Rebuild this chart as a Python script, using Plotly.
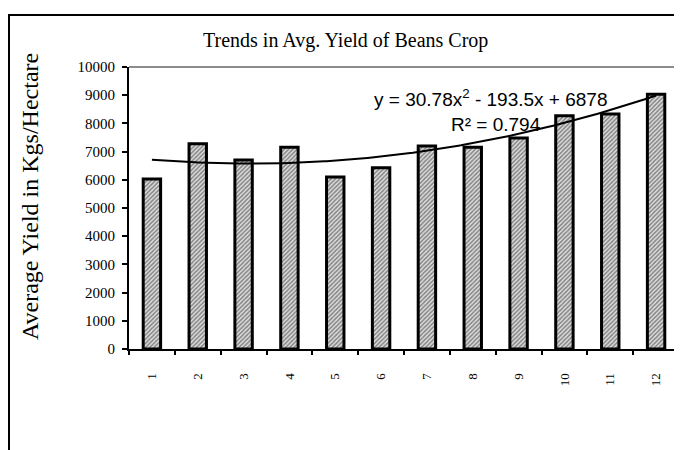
import numpy as np
import plotly.graph_objects as go

years = [1, 2, 3, 4, 5, 6, 7, 8, 9, 10, 11, 12]
tick_labels = ["1", "2", "3", "4", "5", "6", "7", "8", "9", "10", "11", "12"]
yield_vals = [6030, 7280, 6700, 7150, 6100, 6430, 7200, 7150, 7480, 8270, 8330, 9030]
trend_coef = [30.78, -193.5, 6878]  # quadratic trendline shown on chart
y_ticks = [0, 1000, 2000, 3000, 4000, 5000, 6000, 7000, 8000, 9000, 10000]

title = "Trends in Avg. Yield of Beans Crop"
y_title = "Average Yield in Kgs/Hectare"
eq_text = "y = 30.78x<sup>2</sup> - 193.5x + 6878"
r2_text = "R² = 0.794"

serif = "Liberation Serif, Times New Roman, serif"
sans = "Liberation Sans, Arial, sans-serif"

tx = np.linspace(years[0], years[-1], 200)
ty = np.polyval(trend_coef, tx)

fig = go.Figure()
fig.add_trace(go.Bar(
    x=years, y=yield_vals, width=0.38,
    marker=dict(color="#e4e4e4", line=dict(color="black", width=3),
                pattern=dict(shape="/", fgcolor="#2a2a2a", size=3, solidity=0.55)),
    showlegend=False, hoverinfo="skip"))
fig.add_trace(go.Scatter(x=tx, y=ty, mode="lines", line=dict(color="black", width=2),
                         showlegend=False, hoverinfo="skip"))
fig.add_trace(go.Scatter(x=[0.5, 12.5], y=[0, 0], mode="lines", xaxis="x2",
                         line=dict(width=0, color="rgba(0,0,0,0)"), showlegend=False, hoverinfo="skip"))

# page body has an 8px margin, so work in reference pixels minus 8
OFF = 8
W, H = 682 - OFF, 450 - OFF
L, T = 129 - OFF, 67 - OFF
R = W - (679 - OFF)
B = H - (349 - OFF)
pw, ph = W - L - R, H - T - B

def px(x):
    return (x - OFF - L) / pw

def py(y):
    return (H - B - (y - OFF)) / ph

fig.update_layout(
    width=W, height=H,
    margin=dict(l=L, r=R, t=T, b=B),
    paper_bgcolor="white", plot_bgcolor="white",
    xaxis=dict(range=[0.5, 12.5], tickvals=years, ticktext=tick_labels, ticks="",
               tickangle=-90, tickfont=dict(family=serif, size=13, color="black"),
               showgrid=False, zeroline=False, showline=True, linecolor="black", linewidth=2,
               ticklabelstandoff=17),
    xaxis2=dict(range=[0.5, 12.5], overlaying="x", anchor="y", side="bottom",
                tickvals=[i + 0.5 for i in range(0, 13)], showticklabels=False,
                ticks="outside", ticklen=5, tickwidth=2, tickcolor="black",
                showgrid=False, zeroline=False, showline=False),
    yaxis=dict(range=[0, 10000], tickvals=y_ticks, tickformat="d", ticks="outside", ticklen=5,
               tickwidth=2, tickcolor="black", tickfont=dict(family=serif, size=15, color="black"),
               showgrid=False, zeroline=False, showline=True, linecolor="black", linewidth=2,
               ticklabelstandoff=4),
    shapes=[
        dict(type="line", xref="paper", yref="paper", x0=0, x1=1, y0=1, y1=1,
             line=dict(color="#8c8c8c", width=2)),
        dict(type="line", xref="paper", yref="paper", x0=1, x1=1, y0=0, y1=1,
             line=dict(color="#8c8c8c", width=2)),
        dict(type="rect", xref="paper", yref="paper", x0=px(9), x1=px(720), y0=py(500), y1=py(15),
             line=dict(color="black", width=2), fillcolor="rgba(0,0,0,0)", layer="above"),
    ],
    annotations=[
        dict(text=title, xref="paper", yref="paper", x=px(345), y=py(40), showarrow=False,
             font=dict(family=serif, size=20, color="black"), xanchor="center", yanchor="middle"),
        dict(text=y_title, xref="paper", yref="paper", x=px(30), y=py(197), showarrow=False,
             textangle=-90, font=dict(family=serif, size=24, color="black"),
             xanchor="center", yanchor="middle"),
        dict(text=eq_text, xref="paper", yref="paper", x=px(490), y=py(98), showarrow=False,
             font=dict(family=sans, size=19, color="black"), xanchor="center", yanchor="middle"),
        dict(text=r2_text, xref="paper", yref="paper", x=px(496), y=py(124), showarrow=False,
             font=dict(family=sans, size=19, color="black"), xanchor="center", yanchor="middle"),
    ],
)

fig.write_html("out.html")
